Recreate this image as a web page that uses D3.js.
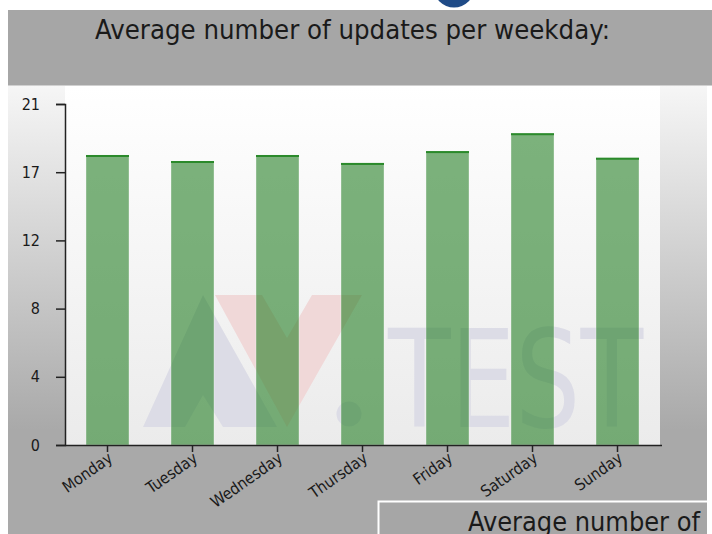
<!DOCTYPE html>
<html>
<head>
<meta charset="utf-8">
<script src="https://cdn.jsdelivr.net/npm/d3@7"></script>
<style>
  body { margin: 0; background: #fff; }
  text { font-family: "DejaVu Sans Condensed", "DejaVu Sans", sans-serif; font-stretch: condensed; }
</style>
</head>
<body>
<div id="chart-area"></div>
<script>
// Average number of updates per weekday (AV-TEST)

var days = ["Monday", "Tuesday", "Wednesday", "Thursday", "Friday", "Saturday", "Sunday"];
var updates = [17.86, 17.49, 17.86, 17.37, 18.1, 19.2, 17.69];
var yTicks = [0, 4.2, 8.4, 12.6, 16.8, 21];
var yTickLabels = ["0", "4", "8", "12", "17", "21"];

var width = 712, height = 534;
var plot = { left: 65, right: 660, top: 86, bottom: 445 };

var svg = d3.select("#chart-area")
    .append("svg")
    .attr("width", width)
    .attr("height", height);

var defs = svg.append("defs");

var outerGrad = defs.append("linearGradient")
    .attr("id", "outerGrad")
    .attr("gradientUnits", "userSpaceOnUse")
    .attr("x1", 0).attr("y1", 86).attr("x2", 0).attr("y2", 430);
outerGrad.append("stop").attr("offset", "0%").attr("stop-color", "#f6f6f6");
outerGrad.append("stop").attr("offset", "100%").attr("stop-color", "#a9a9a9");

var plotGrad = defs.append("linearGradient")
    .attr("id", "plotGrad")
    .attr("x1", 0).attr("y1", 0).attr("x2", 0).attr("y2", 1);
plotGrad.append("stop").attr("offset", "0%").attr("stop-color", "#ffffff");
plotGrad.append("stop").attr("offset", "100%").attr("stop-color", "#ebebeb");

// background of the chart panel
svg.append("rect")
    .attr("x", 8).attr("y", 86)
    .attr("width", 699).attr("height", 448)
    .attr("fill", "url(#outerGrad)");

// title band
svg.append("rect")
    .attr("x", 8).attr("y", 10)
    .attr("width", 704).attr("height", 75)
    .attr("fill", "#a6a6a6");
svg.append("line")
    .attr("x1", 8).attr("x2", 712).attr("y1", 85.5).attr("y2", 85.5)
    .attr("stroke", "#d0d0d0");

svg.append("text")
    .attr("x", 95).attr("y", 39)
    .attr("font-size", "26px")
    .attr("fill", "#1a1a1a")
    .attr("textLength", 515)
    .attr("lengthAdjust", "spacingAndGlyphs")
    .text("Average number of updates per weekday:");

// blue blob at the top edge
svg.append("circle")
    .attr("cx", 454).attr("cy", -13).attr("r", 20.5)
    .attr("fill", "#1f4b87");

// plot area
svg.append("rect")
    .attr("x", plot.left).attr("y", plot.top)
    .attr("width", plot.right - plot.left).attr("height", plot.bottom - plot.top)
    .attr("fill", "url(#plotGrad)");

// AV-TEST watermark
var wm = svg.append("g").attr("class", "watermark");
wm.append("path")
    .attr("d", "M215,295 L362,295 L287,427 Z M262,295 L312,295 L287,338 Z")
    .attr("fill-rule", "evenodd")
    .attr("fill", "#f0d8d8");
wm.append("path")
    .attr("d", "M143,427 L203,295 L277,427 L223,427 L203,395 L185,427 Z")
    .attr("fill", "#dcdce6");
wm.append("circle")
    .attr("cx", 349).attr("cy", 414).attr("r", 12.5)
    .attr("fill", "#dcdce6");
wm.append("text")
    .attr("x", 388).attr("y", 427)
    .attr("font-family", "Roboto, sans-serif")
    .attr("font-weight", 300)
    .attr("font-size", "136px")
    .attr("fill", "#dcdce6")
    .attr("textLength", 255)
    .attr("lengthAdjust", "spacingAndGlyphs")
    .text("TEST");

// scales
var xScale = d3.scaleBand()
    .domain(days)
    .range([plot.left, plot.right])
    .paddingInner(0.494)
    .paddingOuter(0.247);

var yScale = d3.scaleLinear()
    .domain([0, 21])
    .range([plot.bottom, 104]);

// bars
var bars = svg.append("g").selectAll("g")
    .data(days)
    .enter()
    .append("g");

bars.append("rect")
    .attr("x", d => xScale(d))
    .attr("y", (d, i) => yScale(updates[i]))
    .attr("width", xScale.bandwidth())
    .attr("height", (d, i) => yScale(0) - yScale(updates[i]))
    .attr("fill", "#1a7a1a")
    .attr("fill-opacity", 0.57)
    .attr("stroke", "#ffffff")
    .attr("stroke-opacity", 0.35)
    .attr("stroke-width", 1);

bars.append("rect")
    .attr("x", d => xScale(d))
    .attr("y", (d, i) => yScale(updates[i]))
    .attr("width", xScale.bandwidth())
    .attr("height", 2)
    .attr("fill", "#2b8a2b");

// y axis
var leftAxis = d3.axisLeft(yScale)
    .tickValues(yTicks)
    .tickSize(9)
    .tickPadding(16)
    .tickFormat((d, i) => yTickLabels[i]);

var yAxisG = svg.append("g")
    .attr("transform", "translate(" + plot.left + ",0)")
    .call(leftAxis);
yAxisG.select(".domain").attr("stroke", "#222").attr("stroke-width", 1.5);
yAxisG.selectAll(".tick line").attr("stroke", "#222").attr("stroke-width", 1.5);
yAxisG.selectAll(".tick text")
    .attr("font-family", null)
    .attr("font-size", "16px")
    .attr("fill", "#1a1a1a");

// x axis
var bottomAxis = d3.axisBottom(xScale).tickSize(7).tickSizeOuter(0);
var xAxisG = svg.append("g")
    .attr("transform", "translate(0," + plot.bottom + ")")
    .call(bottomAxis);
xAxisG.select(".domain")
    .attr("d", "M" + plot.left + ",0.5H" + (plot.right + 2))
    .attr("stroke", "#222").attr("stroke-width", 1.5);
xAxisG.selectAll(".tick line").attr("stroke", "#222").attr("stroke-width", 1.5);
xAxisG.selectAll(".tick text")
    .attr("font-family", null)
    .attr("font-size", "16px")
    .attr("fill", "#1a1a1a")
    .attr("text-anchor", "end")
    .attr("transform", "translate(3,11) rotate(-35)")
    .attr("y", 0)
    .attr("dy", "0.35em");

// start of the next panel at the bottom right
svg.append("rect")
    .attr("x", 378.5).attr("y", 501.5)
    .attr("width", 340).attr("height", 40)
    .attr("fill", "#a6a6a6")
    .attr("stroke", "#ffffff")
    .attr("stroke-width", 2);
svg.append("text")
    .attr("x", 468).attr("y", 531)
    .attr("font-size", "26px")
    .attr("fill", "#1a1a1a")
    .attr("textLength", 232)
    .attr("lengthAdjust", "spacingAndGlyphs")
    .text("Average number of");

// white strip on the right edge
svg.append("rect")
    .attr("x", 707).attr("y", 86)
    .attr("width", 5).attr("height", 448)
    .attr("fill", "#ffffff");
</script>
</body>
</html>
